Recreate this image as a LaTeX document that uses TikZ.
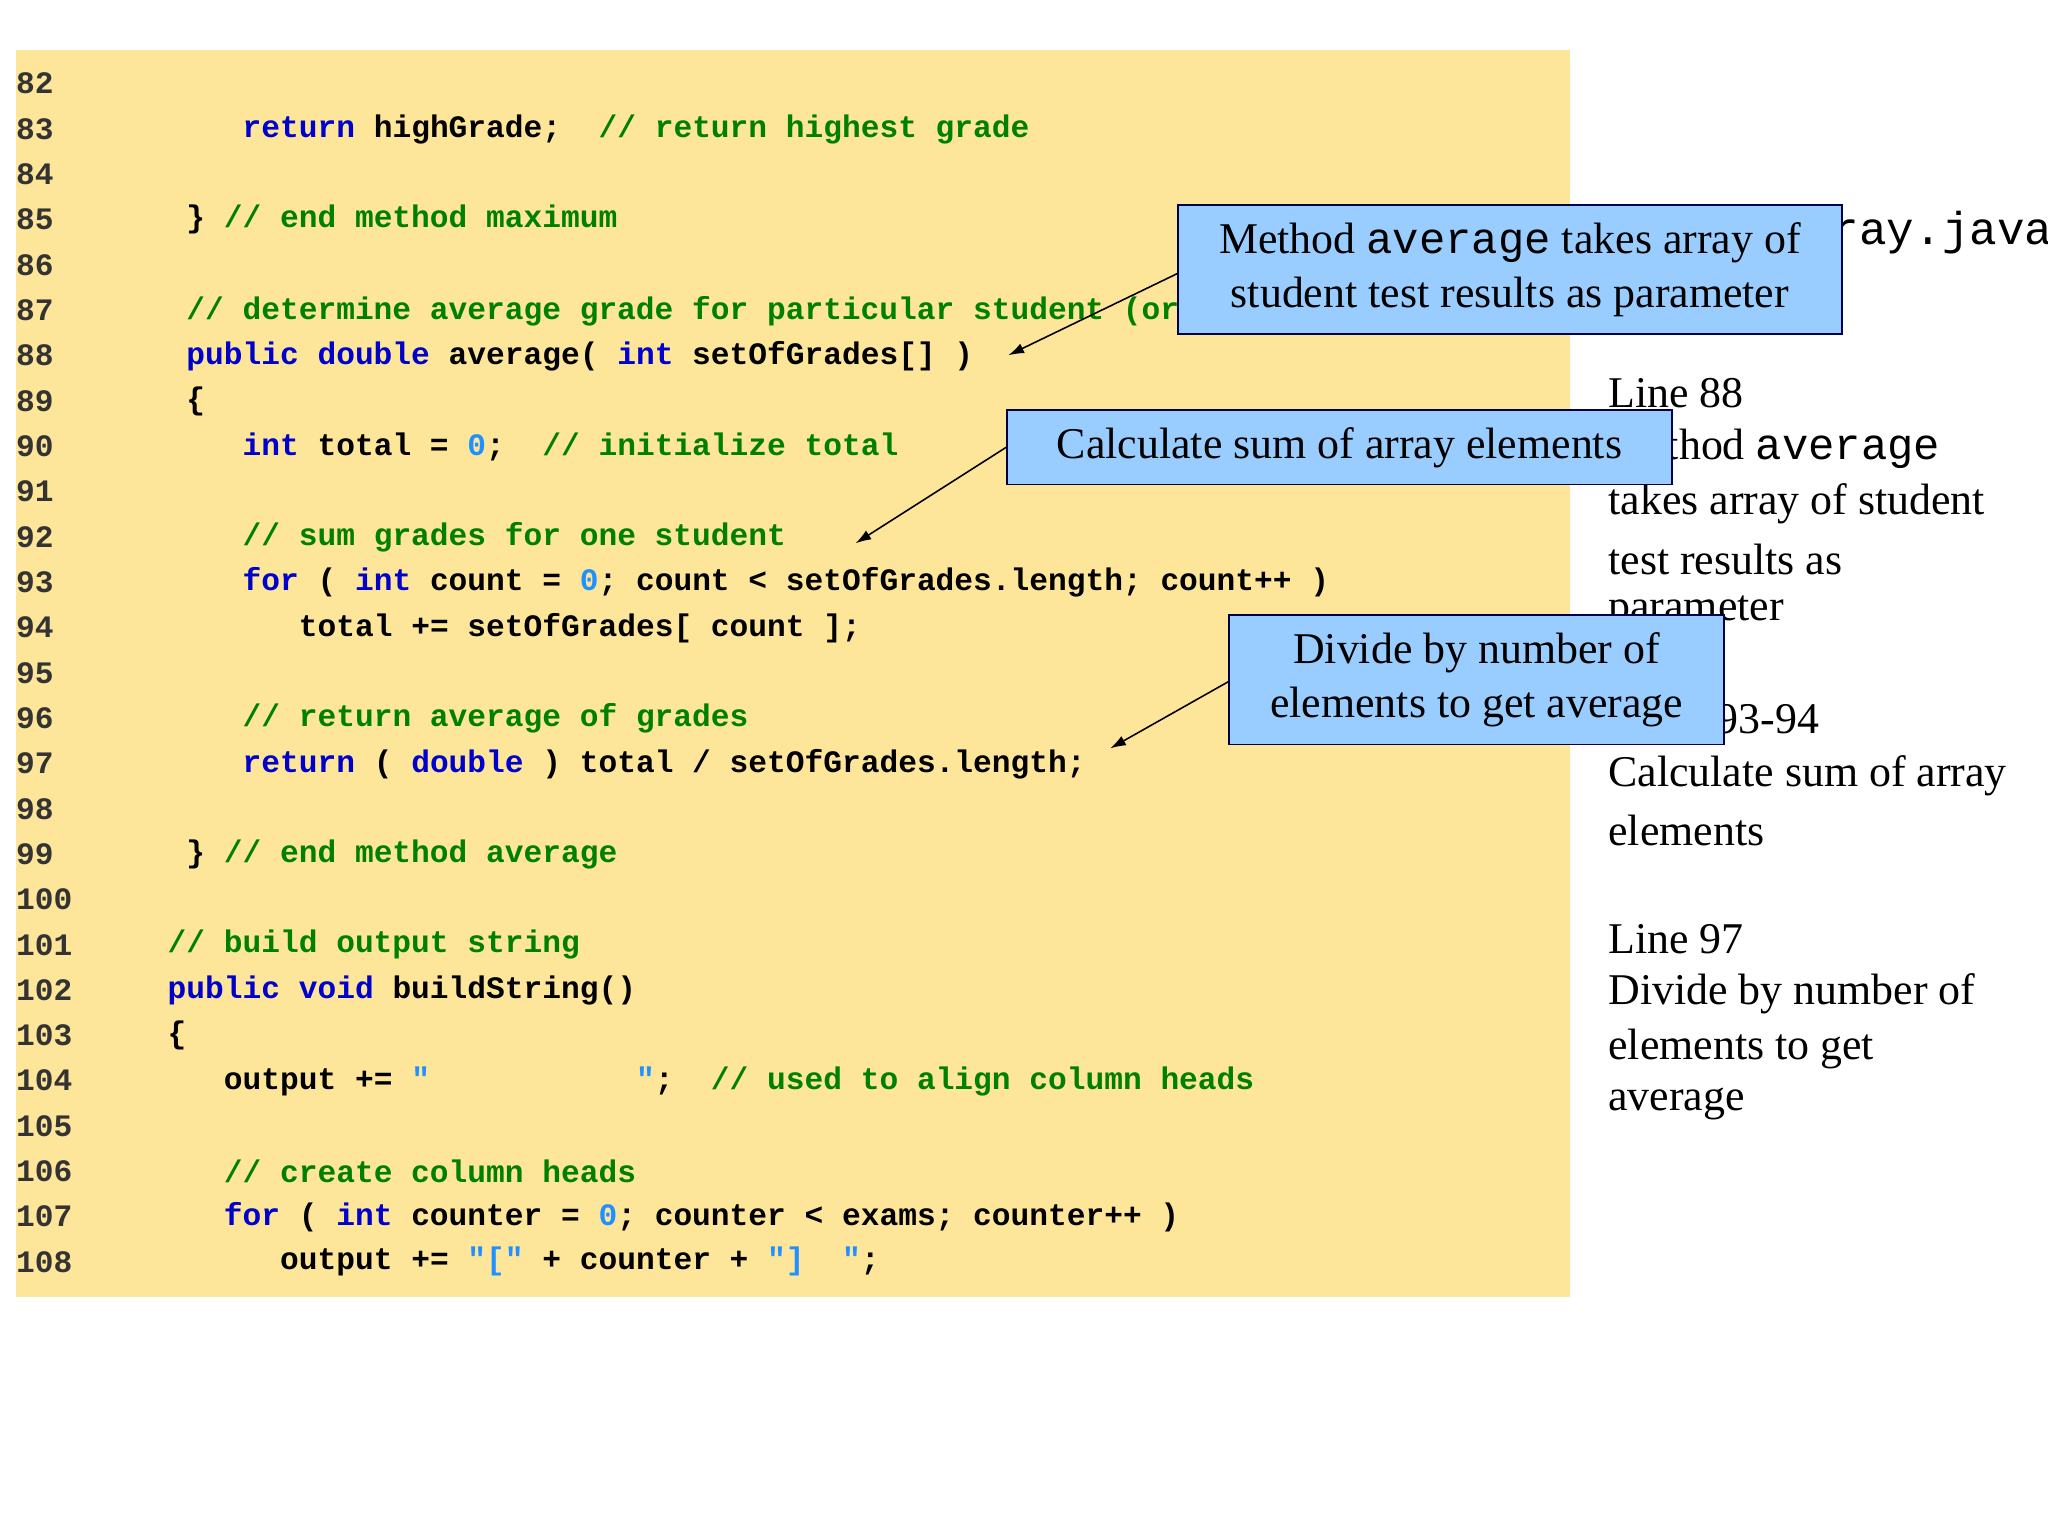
\documentclass[tikz,border=0pt]{standalone}
\usepackage{fontspec}
\setmainfont{Liberation Serif}
\newfontfamily\codefont{Liberation Mono}
\usetikzlibrary{arrows.meta}
\definecolor{bgy}{HTML}{FDE59A}
\definecolor{kwc}{HTML}{0000CC}
\definecolor{cmc}{HTML}{008000}
\definecolor{nmc}{HTML}{1E90FF}
\definecolor{boxc}{HTML}{99CCFF}
\newcommand\kw[1]{\textcolor{kwc}{#1}}
\newcommand\cm[1]{\textcolor{cmc}{#1}}
\newcommand\nm[1]{\textcolor{nmc}{#1}}
\newcommand\mymono[1]{{\codefont\fontseries{m}\selectfont #1}}
\tikzset{
 codeline/.style={anchor=west,inner sep=0pt,font=\codefont\bfseries\fontsize{11.95}{14}\selectfont},
 lnum/.style={anchor=west,inner sep=0pt,text=black!80,font=\codefont\bfseries\fontsize{11.95}{14}\selectfont},
 side/.style={anchor=west,inner sep=0pt,font=\fontsize{16.8}{20}\selectfont},
 callout/.style={draw=black!70!blue,fill=boxc,line width=0.7pt,align=center,inner sep=0pt,font=\fontsize{16.8}{21}\selectfont},
 arr/.style={-{Latex[length=6pt,width=4pt]},line width=0.6pt}
}
\begin{document}
\begin{tikzpicture}[x=0.5pt,y=-0.5pt]
\useasboundingbox (0,0) rectangle (1568,1176);
\clip (0,0) rectangle (1568,1176);
\fill[bgy] (12,38) rectangle (1202,993);
% line numbers
\foreach \n [count=\i from 0] in {82,...,108}{
 \node[lnum] (n\n) at (12,64+34.7*\i) {\n};
}
\def\cw{14.35}
\node[codeline] (c83) at (128+4*\cw,99) {\kw{return} highGrade;\ \ \cm{// return highest grade}};
\node[codeline] (c85) at (128+1*\cw,168) {\} \cm{// end method maximum}};
\node[codeline] (c87) at (128+1*\cw,238) {\cm{// determine average grade for particular student (or set of grades)}};
\node[codeline] (c88) at (128+1*\cw,273) {\kw{public double} average( \kw{int} setOfGrades[] )};
\node[codeline] (c89) at (128+1*\cw,307) {\{};
\node[codeline] (c90) at (128+4*\cw,342) {\kw{int} total = \nm{0};\ \ \cm{// initialize total}};
\node[codeline] (c92) at (128+4*\cw,411) {\cm{// sum grades for one student}};
\node[codeline] (c93) at (128+4*\cw,446) {\kw{for} ( \kw{int} count = \nm{0}; count < setOfGrades.length; count++ )};
\node[codeline] (c94) at (128+7*\cw,481) {total += setOfGrades[ count ];};
\node[codeline] (c96) at (128+4*\cw,550) {\cm{// return average of grades}};
\node[codeline] (c97) at (128+4*\cw,585) {\kw{return} ( \kw{double} ) total / setOfGrades.length;};
\node[codeline] (c99) at (128+1*\cw,654) {\} \cm{// end method average}};
\node[codeline] (c101) at (128,723) {\cm{// build output string}};
\node[codeline] (c102) at (128,758) {\kw{public void} buildString()};
\node[codeline] (c103) at (128,793) {\{};
\node[codeline] (c104) at (128+3*\cw,828) {output += \nm{"\ \ \ \ \ \ \ \ \ \ \ "};\ \ \cm{// used to align column heads}};
\node[codeline] (c106) at (128+3*\cw,897) {\cm{// create column heads}};
\node[codeline] (c107) at (128+3*\cw,932) {\kw{for} ( \kw{int} counter = \nm{0}; counter < exams; counter++ )};
\node[codeline] (c108) at (128+6*\cw,966) {output += \nm{"["} + counter + \nm{"]\ \ "};};
% side text
\node[anchor=west,inner sep=0pt,font=\codefont\fontsize{17.6}{20}\selectfont] (title) at (1233,178) {DoubleArray.java};
\node[side] (s1) at (1231,301) {Line 88};
\node[side] (s2) at (1231,344) {Method \mymono{average}};
\node[side] (s3) at (1231,386) {takes array of student};
\node[side] (s4) at (1231,428) {test results as};
\node[side] (s5) at (1231,469) {parameter};
\node[side] (s6) at (1231,551) {Lines 93-94};
\node[side] (s7) at (1231,594) {Calculate sum of array};
\node[side] (s8) at (1231,636) {elements};
\node[side] (s9) at (1231,719) {Line 97};
\node[side] (s10) at (1231,761) {Divide by number of};
\node[side] (s11) at (1231,803) {elements to get};
\node[side] (s12) at (1231,845) {average};
% callouts
\node[callout,minimum width=254pt,minimum height=49.5pt] (b1) at (1156,206.5) {Method \mymono{average} takes array of\\student test results as parameter};
\node[callout,minimum width=254.5pt,minimum height=28.5pt] (b2) at (1025.5,342.5) {Calculate sum of array elements};
\node[callout,minimum width=189.5pt,minimum height=49.5pt] (b3) at (1130.5,520.5) {Divide by number of\\elements to get average};
\coordinate (t1) at (772,272);
\coordinate (t2) at (655,416);
\coordinate (t3) at (850,573);
\draw[arr] (b1.west) ++(0,3) -- (t1);
\draw[arr] (b2.west) -- (t2);
\draw[arr] (b3.west) ++(0,1.5) -- (t3);
\end{tikzpicture}
\end{document}
